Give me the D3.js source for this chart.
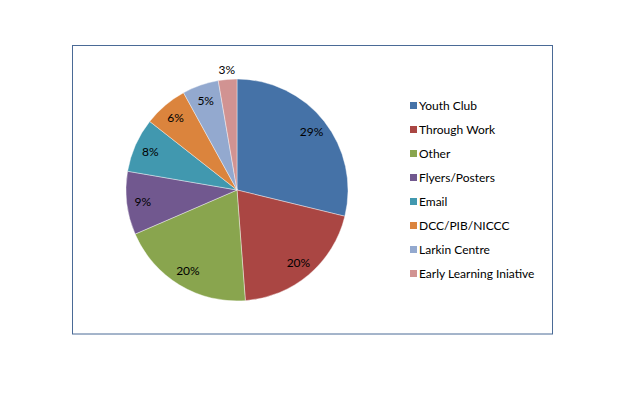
<!DOCTYPE html>
<html>
<head>
<meta charset="utf-8">
<script src="https://cdn.jsdelivr.net/npm/d3@7"></script>
<style>
body { margin: 0; background: #fff; }
svg text { font-family: Lato, "Open Sans", sans-serif; font-size: 12px; fill: #000; }
</style>
</head>
<body>
<svg id="chart" width="627" height="398"></svg>
<script>
var categories = ['Youth Club', 'Through Work', 'Other', 'Flyers/Posters', 'Email', 'DCC/PIB/NICCC', 'Larkin Centre', 'Early Learning Iniative'];
var values = [28.8, 20, 19.7, 9.2, 7.9, 6.4, 5.3, 2.7];
var colors = ['#4572a7', '#aa4643', '#89a54e', '#71588f', '#4198af', '#db843d', '#93a9cf', '#d19392'];

var svg = d3.select('#chart');

// chart area border
svg.append('rect')
	.attr('x', 72.5).attr('y', 45.5)
	.attr('width', 480).attr('height', 288.5)
	.attr('fill', '#fff')
	.attr('stroke', '#4a6a96')
	.attr('stroke-width', 1);

var cx = 237, cy = 190, r = 111;
var total = d3.sum(values);

var pie = d3.pie().sort(null).value(function(d) { return d; });
var arcs = pie(values);
var arc = d3.arc().innerRadius(0).outerRadius(r);

var g = svg.append('g').attr('transform', 'translate(' + cx + ',' + cy + ')');

g.selectAll('path.slice')
	.data(arcs)
	.enter().append('path')
	.attr('class', 'slice')
	.attr('d', arc)
	.attr('fill', function(d, i) { return colors[i]; })
	.attr('stroke', 'rgba(255,255,255,0.5)')
	.attr('stroke-width', 0.8);

// labels: inside for big slices, outside for small ones
g.selectAll('text.pct')
	.data(arcs)
	.enter().append('text')
	.attr('class', 'pct')
	.attr('text-anchor', 'middle')
	.attr('dy', '0.35em')
	.attr('transform', function(d) {
		var a = (d.startAngle + d.endAngle) / 2;
		var lr = d.value < 4 ? r + 10 : r * 0.855;
		return 'translate(' + (Math.sin(a) * lr) + ',' + (-Math.cos(a) * lr) + ')';
	})
	.text(function(d) { return Math.round(d.value / total * 100) + '%'; });

// legend
var legend = svg.append('g').attr('transform', 'translate(410,106)');
var item = legend.selectAll('g')
	.data(categories)
	.enter().append('g')
	.attr('transform', function(d, i) { return 'translate(0,' + (i * 24) + ')'; });
item.append('rect')
	.attr('x', 0).attr('y', -4)
	.attr('width', 7).attr('height', 7)
	.attr('fill', function(d, i) { return colors[i]; });
item.append('text')
	.attr('x', 9)
	.attr('dy', '0.35em')
	.text(function(d) { return d; });
</script>
</body>
</html>
